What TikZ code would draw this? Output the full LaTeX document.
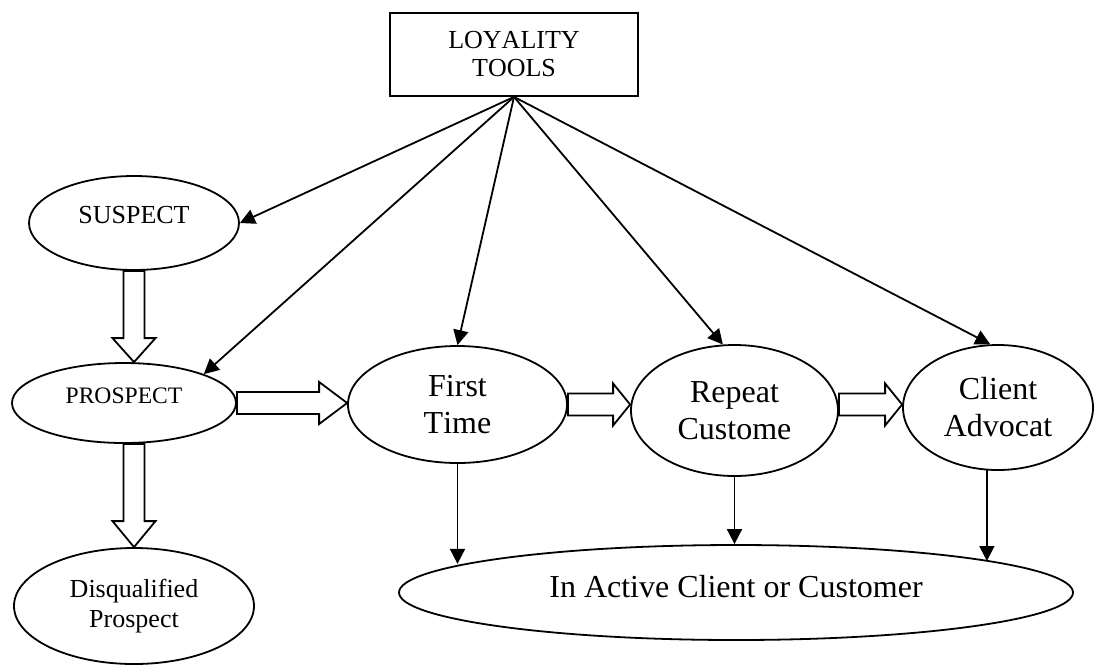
\documentclass[tikz,border=0pt]{standalone}
\usepackage{fontspec}
\setmainfont{Liberation Serif}[Kerning=Off]
\usetikzlibrary{shapes.geometric,arrows.meta,calc}

\tikzset{
  bubble/.style={draw, ellipse, line width=0.9pt, inner sep=0pt, align=center},
  bigtext/.style={font=\fontsize{16}{18.5}\selectfont},
  midtext/.style={font=\fontsize{13}{15}\selectfont},
  feed/.style={draw, line width=0.9pt, -{Triangle[length=7.5pt,width=7.5pt]}},
  hollow/.style={draw, line width=0.9pt, fill=white, line join=miter},
}

% hollow block arrow: start, end, half shaft width, half head width, head length
\newcommand\hollowarrow[5]{%
  \path ($(#2)!#5!(#1)$) coordinate (ha-base);
  \draw[hollow] ($(#1)!#3!90:(#2)$) -- ($(ha-base)!#3!-90:(#1)$)
    -- ($(ha-base)!#4!-90:(#1)$) -- (#2) -- ($(ha-base)!#4!90:(#1)$)
    -- ($(ha-base)!#3!90:(#1)$) -- ($(#1)!#3!-90:(#2)$) -- cycle;
}

\begin{document}
\begin{tikzpicture}[x=0.5pt, y=-0.5pt]
\useasboundingbox (0,0) rectangle (1096,665);

% nodes
\node[draw, line width=0.9pt, minimum width=124pt, minimum height=41.5pt,
      inner sep=0pt, align=center, font=\fontsize{13}{14}\selectfont]
      (tools) at (514,54.5) {LOYALITY\\TOOLS};
\node[bubble, midtext, minimum width=105pt, minimum height=47pt, text depth=8pt]
      (susp) at (134,223) {SUSPECT};
\node[bubble, font=\fontsize{11.8}{14}\selectfont, minimum width=112pt,
      minimum height=40pt, text depth=7pt] (pros) at (124,403) {PROSPECT};
\node[bubble, midtext, minimum width=120pt, minimum height=58pt]
      (disq) at (134,606) {Disqualified\\Prospect};
\node[bubble, bigtext, minimum width=109.5pt, minimum height=58.5pt]
      (first) at (457.5,404.5) {First\\Time};
\node[bubble, bigtext, minimum width=103.5pt, minimum height=65.5pt]
      (rep) at (734.5,410.5) {Repeat\\Custome};
\node[bubble, bigtext, minimum width=95pt, minimum height=62.5pt]
      (cli) at (998,407.5) {Client\\Advocat};
\node[bubble, bigtext, minimum width=337pt, minimum height=47.5pt, text depth=6.5pt]
      (inact) at (736,592.5) {In Active Client or Customer};

% loyalty tools feeding every stage
\draw[feed] (tools.south) -- (susp.east);
\draw[feed] (tools.south) -- (pros.north east);
\draw[feed] (tools.south) -- (first.north);
\draw[feed] (tools.south) -- (rep.100);
\draw[feed] (tools.south) -- (cli.97);

% block arrows of the customer ladder
\coordinate (a1) at (susp.south);
\coordinate (b1) at (susp.south |- pros.north);
\hollowarrow{a1}{b1}{5.25pt}{10.75pt}{12pt}
\coordinate (a2) at (susp.south |- pros.south);
\coordinate (b2) at (disq.north);
\hollowarrow{a2}{b2}{5.25pt}{10.75pt}{13pt}
\coordinate (a3) at (pros.east);
\coordinate (b3) at (first.west |- pros.east);
\hollowarrow{a3}{b3}{5.5pt}{10.5pt}{14pt}
\coordinate (a4) at (first.east);
\coordinate (b4) at (rep.west |- first.east);
\hollowarrow{a4}{b4}{5.5pt}{10.5pt}{8.5pt}
\coordinate (a5) at (rep.east |- first.east);
\coordinate (b5) at (cli.west |- first.east);
\hollowarrow{a5}{b5}{5.5pt}{10.5pt}{8.5pt}

% lapse into inactivity
\draw[feed] (first.south) -- (first.south |- inact.174);
\draw[feed] (rep.south) -- (rep.south |- inact.north);
\draw[feed] (cli.260) -- (cli.260 |- inact.7);
\end{tikzpicture}
\end{document}
